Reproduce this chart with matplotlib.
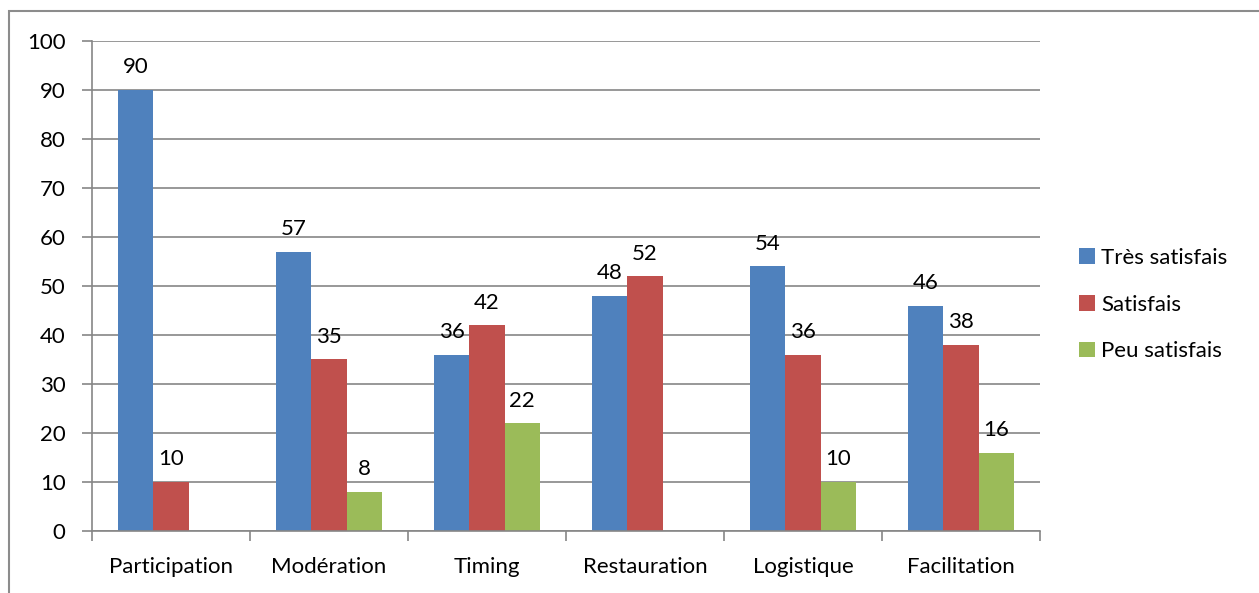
import numpy as np
import matplotlib.pyplot as plt
from matplotlib.patches import Rectangle

plt.rcParams['font.family'] = ['Lato', 'DejaVu Sans']

categories = ["Participation", "Modération", "Timing", "Restauration", "Logistique", "Facilitation"]
series_names = ["Très satisfais", "Satisfais", "Peu satisfais"]
tres_satisfais = [90, 57, 36, 48, 54, 46]
satisfais = [10, 35, 42, 52, 36, 38]
peu_satisfais = [None, 8, 22, None, 10, 16]
colors = ["#4F81BD", "#C0504D", "#9BBB59"]

fig = plt.figure(figsize=(12.59, 5.93), dpi=100)
ax = fig.add_axes([92 / 1259, 1 - 531 / 593, (1040 - 92) / 1259, (531 - 41) / 593])

# outer chart frame
fig.patches.append(Rectangle((9 / 1259, -0.05), 1.2, 1 - 11 / 593 + 0.05,
                             transform=fig.transFigure, fill=False,
                             edgecolor="#8C8C8C", linewidth=1.5))

x = np.arange(len(categories))
width = 1 / 4.5
for i, (vals, name, c) in enumerate(zip([tres_satisfais, satisfais, peu_satisfais], series_names, colors)):
    xs = [xi + (i - 1) * width for xi, v in zip(x, vals) if v is not None]
    vs = [v for v in vals if v is not None]
    ax.bar(xs, vs, width=width, color=c, label=name, zorder=2)
    for xi, v in zip(xs, vs):
        ax.annotate(str(v), (xi, v), xytext=(0, 9), textcoords="offset points",
                    ha="center", va="bottom", fontsize=16)

ax.set_xlim(-0.5, len(categories) - 0.5)
ax.set_ylim(0, 100)
ax.set_yticks(range(0, 101, 10))
ax.set_xticks(x)
ax.set_xticklabels(categories, fontsize=16)
ax.tick_params(axis="x", length=0, pad=19)
ax.tick_params(axis="y", labelsize=16, length=7, color="#868686", width=1.2, pad=12)
# category boundary ticks
ax.set_xticks(np.arange(-0.5, len(categories)), minor=True)
ax.tick_params(axis="x", which="minor", length=7, color="#868686", width=1.2)
ax.grid(axis="y", color="#868686", linewidth=1.2, zorder=0)
for s in ["top", "right"]:
    ax.spines[s].set_visible(False)
for s in ["left", "bottom"]:
    ax.spines[s].set_color("#868686")
    ax.spines[s].set_linewidth(1.2)

ax.legend(loc="center left", bbox_to_anchor=(1.032, 0.462), frameon=False,
          fontsize=16, handlelength=0.7, handleheight=0.7, handletextpad=0.3,
          labelspacing=1.2, borderaxespad=0)

fig.savefig("out.png", dpi=100)
